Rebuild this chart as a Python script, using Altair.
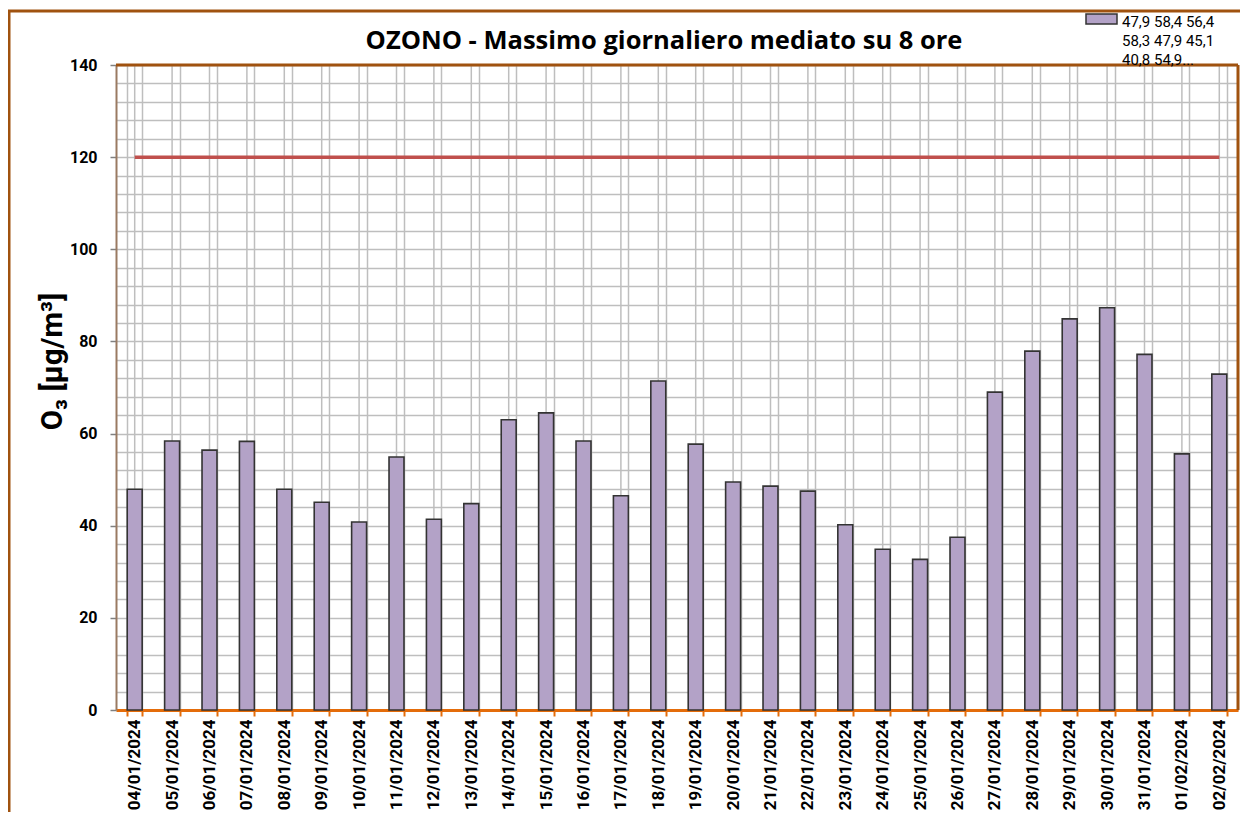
import altair as alt
import pandas as pd

# ---- data ----
date = [
    "04/01/2024", "05/01/2024", "06/01/2024", "07/01/2024", "08/01/2024",
    "09/01/2024", "10/01/2024", "11/01/2024", "12/01/2024", "13/01/2024",
    "14/01/2024", "15/01/2024", "16/01/2024", "17/01/2024", "18/01/2024",
    "19/01/2024", "20/01/2024", "21/01/2024", "22/01/2024", "23/01/2024",
    "24/01/2024", "25/01/2024", "26/01/2024", "27/01/2024", "28/01/2024",
    "29/01/2024", "30/01/2024", "31/01/2024", "01/02/2024", "02/02/2024",
]
ozono = [
    47.9, 58.4, 56.4, 58.3, 47.9, 45.1, 40.8, 54.9, 41.4, 44.8,
    63.0, 64.5, 58.4, 46.5, 71.4, 57.7, 49.5, 48.6, 47.5, 40.2,
    34.9, 32.7, 37.5, 69.0, 77.9, 84.9, 87.3, 77.2, 55.6, 72.9,
]
soglia = 120  # valore obiettivo (linea rossa)
legend_lines = ["47,9 58,4 56,4", "58,3 47,9 45,1", "40,8 54,9..."]
title_text = "OZONO - Massimo giornaliero mediato su 8 ore"
y_title = "O₃ [µg/m³]"

serie = "|".join(legend_lines)
df = pd.DataFrame({
    "data": date,
    "ozono": ozono,
    "soglia": [soglia for _ in date],
    "serie": [serie for _ in date],
})

BROWN = "#A0520F"
ORANGE = "#E46C0A"
GRID = "#BEBEBE"
FONT = "Roboto"

x_enc = alt.X(
    "data:N", sort=None, title=None,
    scale=alt.Scale(paddingInner=0.6, paddingOuter=0.3),
    axis=alt.Axis(
        labelAngle=-90, labelFont=FONT, labelFontSize=17, labelFontWeight="bold",
        labelColor="#000000", labelPadding=3, labelOverlap=False,
        domainColor=ORANGE, domainWidth=3,
        tickColor=ORANGE, tickWidth=2, tickSize=6, tickBand="extent",
        grid=True, gridColor=GRID, gridWidth=1.5,
    ),
)
y_scale = alt.Scale(domain=[0, 140], nice=False, zero=True)
y_axis = alt.Axis(
    values=list(range(0, 141, 4)),
    labelExpr="datum.value % 20 == 0 ? datum.label : ''",
    labelOverlap=False,
    labelFont=FONT, labelFontSize=16, labelFontWeight="bold", labelColor="#000000",
    labelPadding=13,
    tickSize=6, tickColor="#808080", tickWidth=1.5,
    tickOpacity={"condition": {"test": "datum.value % 20 == 0", "value": 1}, "value": 0},
    domainColor="#9A7A62", domainWidth=2,
    grid=True, gridColor=GRID, gridWidth=1.5,
    title=y_title, titleFont=FONT, titleFontSize=29.5, titleFontWeight="bold",
    titleColor="#000000", titleAngle=-90, titleX=-64, titleY=296,
    titleAlign="center", titleBaseline="middle",
)

base = alt.Chart(df)

center_grid = base.mark_rule(color=GRID, strokeWidth=1.5).encode(x=x_enc)

bars = base.mark_bar(stroke="#333333", strokeWidth=1.6, opacity=1).encode(
    x=x_enc,
    y=alt.Y("ozono:Q", scale=y_scale, axis=y_axis),
    color=alt.Color(
        "serie:N",
        scale=alt.Scale(range=["#B3A2C7"]),
        legend=alt.Legend(
            title=None, orient="none", legendX=969, legendY=-59.7,
            symbolType="M-1,-0.5H1V0.14H-1Z", symbolSize=961,
            symbolStrokeColor="#333333", symbolStrokeWidth=1.5, symbolOpacity=1,
            labelExpr="split(datum.label, '|')",
            labelFont=FONT, labelFontSize=15, labelColor="#000000",
            labelBaseline="middle", labelOffset=4, labelLimit=300,
        ),
    ),
)

limit_line = base.mark_line(color="#C0504D", strokeWidth=3.5).encode(
    x=x_enc,
    y=alt.Y("soglia:Q", scale=y_scale, axis=y_axis),
)

one = alt.Data(values=[{"f": 1}])
plot_top = alt.Chart(one).mark_rule(color=BROWN, strokeWidth=3).encode(
    x=alt.value(0), x2=alt.value("width"), y=alt.value(0)
)
plot_right = alt.Chart(one).mark_rule(color=BROWN, strokeWidth=3).encode(
    x=alt.value("width"), y=alt.value(0), y2=alt.value("height")
)
frame_left = alt.Chart(one).mark_rule(color=BROWN, strokeWidth=3).encode(
    x=alt.value(-107), y=alt.value(-55), y2=alt.value(1000)
)
frame_top = alt.Chart(one).mark_rect(color=BROWN, opacity=1).encode(
    x=alt.value(-108.5), x2=alt.value(1400), y=alt.value(-55.5), y2=alt.value(-52.5)
)

chart = alt.layer(
    center_grid, bars, limit_line, plot_top, plot_right, frame_left, frame_top
).properties(
    width=1122,
    height=645,
    title=alt.TitleParams(
        title_text, font="Open Sans", fontSize=25.5, fontWeight="bold", color="#000000",
        anchor="middle", frame="group", offset=-74, baseline="bottom", dx=-13,
    ),
    autosize=alt.AutoSizeParams(type="none"),
    padding={"left": 108, "top": 57, "right": 2, "bottom": 102},
).configure_view(
    stroke="transparent",
).configure(
    background="#FFFFFF",
    style={"guide-label": {"lineHeight": 19}},
)

chart.save("out.html", embed_options={"renderer": "svg", "actions": False})
